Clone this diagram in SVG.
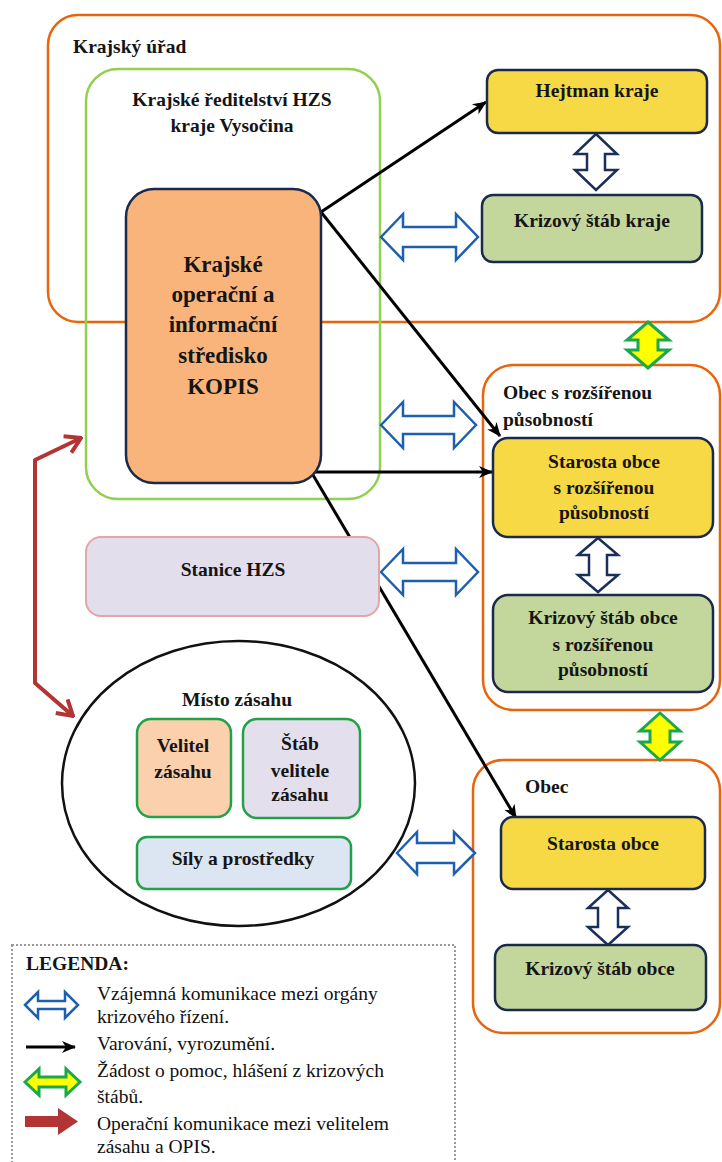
<svg xmlns="http://www.w3.org/2000/svg" width="722" height="1162" viewBox="0 0 722 1162">
<style>
.t{font-family:"Liberation Serif","Times New Roman",serif;font-weight:bold;font-size:19.5px;fill:#151515;text-anchor:middle}
.tl{font-family:"Liberation Serif","Times New Roman",serif;font-weight:bold;font-size:19.5px;fill:#151515}
.lg{font-family:"Liberation Serif","Times New Roman",serif;font-size:19.5px;fill:#111}
.org{fill:#fff;stroke:#E8650E;stroke-width:2.5}
.nav{stroke:#1B2A4A;stroke-width:2.5}
.yel{fill:#F6D944}
.grn{fill:#C3D69B}
.inner{stroke:#22A04A;stroke-width:2.5}
.blu{fill:#fff;stroke:#1F5FAF;stroke-width:2.5;stroke-linejoin:miter}
.wht{fill:#fff;stroke:#1B2F5A;stroke-width:2.5}
.gy{fill:#FFFF00;stroke:#19A84A;stroke-width:3}
.blk{fill:none;stroke:#000;stroke-width:3}
.red{fill:none;stroke:#B33434;stroke-width:4;stroke-linejoin:round}
</style>
<defs>
<marker id="ah" viewBox="0 0 14 14" refX="13" refY="7" markerWidth="14" markerHeight="14" markerUnits="userSpaceOnUse" orient="auto">
<path d="M0,1 L14,7 L0,13 L4,7 Z" fill="#000"/>
</marker>
<marker id="rh" viewBox="-18 -12 20 24" refX="0" refY="0" markerWidth="20" markerHeight="24" markerUnits="userSpaceOnUse" orient="auto-start-reverse">
<path d="M-15,-9 L0,0 L-15,9" fill="none" stroke="#B33434" stroke-width="4" stroke-linejoin="miter"/>
</marker>
</defs>
<rect width="722" height="1162" fill="#fff"/>

<g id="krajsky-urad">
<rect class="org" x="48" y="15" width="672" height="307" rx="30"/>
<text class="tl" x="73" y="53">Krajský úřad</text>
</g>
<g id="krajske-reditelstvi">
<rect x="86" y="69" width="294" height="430" rx="32" fill="none" stroke="#92D050" stroke-width="2.5"/>
<text class="t" x="232" y="106">Krajské ředitelství HZS</text>
<text class="t" x="232" y="132">kraje Vysočina</text>
</g>
<g id="obec-rp">
<rect class="org" x="483" y="365" width="237" height="345" rx="30"/>
<text class="tl" x="503" y="399">Obec s rozšířenou</text>
<text class="tl" x="503" y="426">působností</text>
</g>
<g id="obec">
<rect class="org" x="473" y="760" width="247" height="273" rx="30"/>
<text class="tl" x="525" y="793">Obec</text>
</g>

<g id="connectors">
<line class="blk" x1="321" y1="212" x2="486" y2="102" marker-end="url(#ah)"/>
<line class="blk" x1="321" y1="212" x2="500" y2="436" marker-end="url(#ah)"/>
<line class="blk" x1="311" y1="472" x2="492" y2="472" marker-end="url(#ah)"/>
<line class="blk" x1="313" y1="475" x2="516" y2="818" marker-end="url(#ah)"/>
<path class="blu" d="M381,237 L403,214 L403,227 L456,227 L456,214 L478,237 L456,260 L456,247 L403,247 L403,260 Z"/>
<path class="blu" d="M381,425 L403,402 L403,416 L454,416 L454,402 L476,425 L454,448 L454,434 L403,434 L403,448 Z"/>
<path class="blu" d="M381,572 L403,549 L403,563 L456,563 L456,549 L478,572 L456,595 L456,581 L403,581 L403,595 Z"/>
<path class="blu" d="M397,853 L417,832 L417,843 L454,843 L454,832 L475,853 L454,874 L454,863 L417,863 L417,874 Z"/>
<path class="wht" d="M596,134 L617,154 L605,154 L605,170 L617,170 L596,190 L575,170 L587,170 L587,154 L575,154 Z"/>
<path class="wht" d="M598,538 L618,555 L607,555 L607,575 L618,575 L598,592 L578,575 L589,575 L589,555 L578,555 Z"/>
<path class="wht" d="M608,890 L628,908 L618,908 L618,927 L628,927 L608,945 L588,927 L598,927 L598,908 L588,908 Z"/>
<path class="gy" d="M648,322 L669,340 L658,340 L658,350 L669,350 L648,368 L627,350 L638,350 L638,340 L627,340 Z"/>
<path class="gy" d="M660,713 L680,731 L670,731 L670,742 L680,742 L660,760 L640,742 L650,742 L650,731 L640,731 Z"/>
<path class="red" d="M81,438 L35,460 L35,683 L73,716" marker-start="url(#rh)" marker-end="url(#rh)"/>
</g>

<g id="kopis">
<rect x="126" y="189" width="195" height="294" rx="28" fill="#F9B47C" class="nav"/>
<text class="t" style="font-size:23px" x="223" y="272">Krajské</text>
<text class="t" style="font-size:23px" x="223" y="302">operační a</text>
<text class="t" style="font-size:23px" x="223" y="332">informační</text>
<text class="t" style="font-size:23px" x="223" y="363">středisko</text>
<text class="t" style="font-size:23px" x="223" y="394">KOPIS</text>
</g>
<g id="hejtman">
<rect class="yel nav" x="487" y="70" width="220" height="63" rx="11"/>
<text class="t" x="597" y="97">Hejtman kraje</text>
</g>
<g id="ks-kraje">
<rect class="grn nav" x="482" y="195" width="220" height="67" rx="11"/>
<text class="t" x="592" y="227">Krizový štáb kraje</text>
</g>
<g id="starosta-orp">
<rect class="yel nav" x="493" y="438" width="220" height="99" rx="15"/>
<text class="t" x="604" y="468">Starosta obce</text>
<text class="t" x="604" y="494">s rozšířenou</text>
<text class="t" x="604" y="519">působností</text>
</g>
<g id="ks-orp">
<rect class="grn nav" x="493" y="595" width="220" height="97" rx="15"/>
<text class="t" x="603" y="624">Krizový štáb obce</text>
<text class="t" x="603" y="651">s rozšířenou</text>
<text class="t" x="603" y="676">působností</text>
</g>
<g id="starosta-obce">
<rect class="yel nav" x="501" y="817" width="204" height="72" rx="12"/>
<text class="t" x="603" y="850">Starosta obce</text>
</g>
<g id="ks-obce">
<rect class="grn nav" x="495" y="945" width="211" height="65" rx="12"/>
<text class="t" x="600" y="975">Krizový štáb obce</text>
</g>
<g id="stanice-hzs">
<rect x="86" y="537" width="293" height="79" rx="15" fill="#E3DEEC" stroke="#E6A4A4" stroke-width="2"/>
<text class="t" x="233" y="576">Stanice HZS</text>
</g>
<g id="misto-zasahu">
<ellipse cx="238.5" cy="783.5" rx="176.5" ry="142.5" fill="#fff" stroke="#111" stroke-width="2.5"/>
<text class="t" x="237" y="706">Místo zásahu</text>
</g>
<g id="velitel">
<rect class="inner" x="137" y="719" width="94" height="98" rx="14" fill="#FBD0AC"/>
<text class="t" x="183" y="752">Velitel</text>
<text class="t" x="183" y="778">zásahu</text>
</g>
<g id="stab-velitele">
<rect class="inner" x="243" y="719" width="117" height="99" rx="14" fill="#E4DFEC"/>
<text class="t" x="300" y="750">Štáb</text>
<text class="t" x="300" y="777">velitele</text>
<text class="t" x="300" y="801">zásahu</text>
</g>
<g id="sily">
<rect class="inner" x="137" y="837" width="214" height="52" rx="10" fill="#DCE6F2"/>
<text class="t" x="243" y="865">Síly a prostředky</text>
</g>

<g id="legenda">
<rect x="12" y="945" width="443" height="240" fill="none" stroke="#9A9A9A" stroke-width="2" stroke-dasharray="2 2"/>
<text class="tl" x="26" y="970">LEGENDA:</text>
<path class="blu" d="M25,1005 L38,992 L38,1001 L65,1001 L65,992 L78,1005 L65,1018 L65,1009 L38,1009 L38,1018 Z"/>
<text class="lg" x="97" y="1000">Vzájemná komunikace mezi orgány</text>
<text class="lg" x="97" y="1023"> krizového řízení.</text>
<line class="blk" x1="26" y1="1047" x2="75" y2="1047" marker-end="url(#ah)"/>
<text class="lg" x="97" y="1050">Varování, vyrozumění.</text>
<path class="gy" d="M25,1082 L39,1069 L39,1077 L66,1077 L66,1069 L80,1082 L66,1095 L66,1087 L39,1087 L39,1095 Z"/>
<text class="lg" x="97" y="1077">Žádost o pomoc, hlášení z krizových</text>
<text class="lg" x="97" y="1103">štábů.</text>
<path d="M25,1116 L58,1116 L58,1108 L78,1121.5 L58,1135 L58,1127 L25,1127 Z" fill="#B33434"/>
<text class="lg" x="97" y="1130">Operační komunikace mezi velitelem</text>
<text class="lg" x="97" y="1153">zásahu a OPIS.</text>
</g>
</svg>
